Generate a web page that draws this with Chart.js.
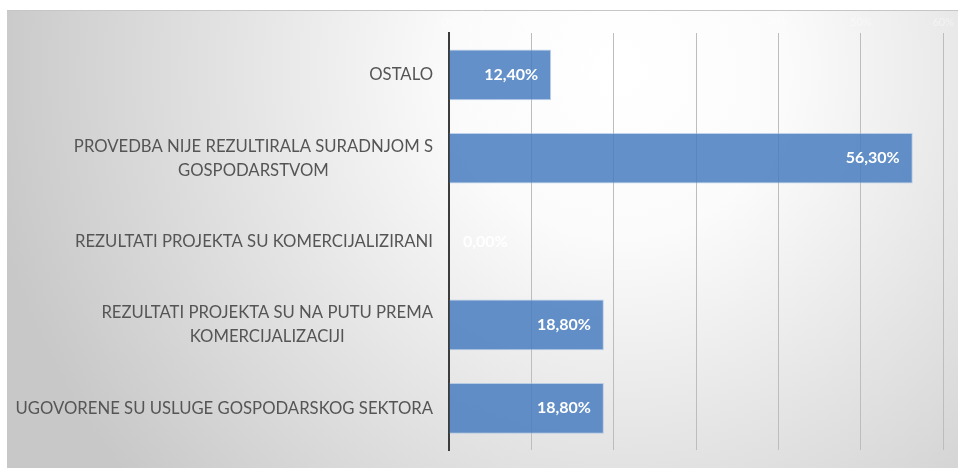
<!DOCTYPE html>
<html>
<head>
<meta charset="utf-8">
<script src="https://cdn.jsdelivr.net/npm/chart.js@4/dist/chart.umd.min.js"></script>
<style>
	html, body { margin: 0; padding: 0; background: #ffffff; }
	#wrap { position: relative; width: 958px; height: 468px; }
</style>
</head>
<body>
<div id="wrap"><canvas id="resultsChart"></canvas></div>
<script>
const categories = [
	["OSTALO"],
	["PROVEDBA NIJE REZULTIRALA SURADNJOM S", "GOSPODARSTVOM"],
	["REZULTATI PROJEKTA SU KOMERCIJALIZIRANI"],
	["REZULTATI PROJEKTA SU NA PUTU PREMA", "KOMERCIJALIZACIJI"],
	["UGOVORENE SU USLUGE GOSPODARSKOG SEKTORA"],
];
const shares = [12.4, 56.3, 0, 18.8, 18.8];
const axisMax = 60;
const axisStep = 10;

const fmtPercent = (v) => v.toFixed(2).replace(".", ",") + "%";

// grey panel with a soft light spot near the top
const panelBackground = {
	id: "panelBackground",
	beforeDraw: (chart) => {
		const ctx = chart.ctx;
		const w = chart.width;
		const h = chart.height;
		ctx.save();
		const grad = ctx.createRadialGradient(620, 70, 10, 620, 70, 640);
		grad.addColorStop(0, "#ffffff");
		grad.addColorStop(0.25, "#fbfbfb");
		grad.addColorStop(0.75, "#d9d9d9");
		grad.addColorStop(1, "#c8c8c8");
		ctx.fillStyle = grad;
		ctx.fillRect(7, 10, w - 7, h - 10);
		ctx.strokeStyle = "#c6c6c6";
		ctx.lineWidth = 1;
		ctx.beginPath();
		ctx.moveTo(7, 10.5);
		ctx.lineTo(w, 10.5);
		ctx.stroke();
		ctx.restore();
	},
};

// category names, right aligned block with centred lines
const categoryNames = {
	id: "categoryNames",
	afterDraw: (chart) => {
		const ctx = chart.ctx;
		const yScale = chart.scales.y;
		const rightEdge = chart.chartArea.left - 16;
		const lineHeight = 24;
		ctx.save();
		ctx.font = "16.7px Lato";
		ctx.fillStyle = "#555555";
		ctx.textAlign = "center";
		ctx.textBaseline = "middle";
		categories.forEach((lines, i) => {
			const y = yScale.getPixelForValue(i);
			const blockWidth = Math.max(...lines.map((l) => ctx.measureText(l).width));
			const cx = rightEdge - blockWidth / 2;
			const top = y - ((lines.length - 1) * lineHeight) / 2;
			lines.forEach((line, j) => {
				ctx.fillText(line, cx, top + j * lineHeight);
			});
		});
		ctx.restore();
	},
};

// value labels inside the end of each bar
const valueLabels = {
	id: "valueLabels",
	afterDatasetsDraw: (chart) => {
		const ctx = chart.ctx;
		const meta = chart.getDatasetMeta(0);
		ctx.save();
		ctx.font = "bold 16px Lato";
		ctx.fillStyle = "#ffffff";
		ctx.textAlign = "right";
		ctx.textBaseline = "middle";
		meta.data.forEach((bar, i) => {
			const text = fmtPercent(shares[i]);
			const tw = ctx.measureText(text).width;
			const x = Math.max(bar.x - 13, bar.base + 14 + tw);
			ctx.fillText(text, x, bar.y);
		});
		ctx.restore();
	},
};

const ctx = document.getElementById("resultsChart").getContext("2d");
new Chart(ctx, {
	type: "bar",
	data: {
		labels: categories.map((l) => l.join(" ")),
		datasets: [
			{
				data: shares,
				backgroundColor: "rgba(72, 125, 190, 0.85)",
				borderColor: "rgba(150, 185, 225, 0.6)",
				borderWidth: 1,
				barPercentage: 0.76,
				categoryPercentage: 0.8,
			},
		],
	},
	options: {
		indexAxis: "y",
		responsive: true,
		maintainAspectRatio: false,
		animation: false,
		layout: {
			padding: { left: 449, right: 12, top: 12, bottom: 18 },
		},
		plugins: {
			legend: { display: false },
			tooltip: { enabled: false },
		},
		scales: {
			x: {
				position: "top",
				min: 0,
				max: axisMax,
				ticks: {
					stepSize: axisStep,
					padding: 4,
					color: "rgba(255, 255, 255, 0.45)",
					font: { family: "Lato", size: 11 },
					callback: (v) => v + "%",
				},
				grid: {
					color: "#bdbdbd",
					lineWidth: 1,
					drawTicks: false,
				},
				border: { display: false },
			},
			y: {
				ticks: { display: false },
				grid: { display: false, drawTicks: false },
				border: { color: "#3c3c3c", width: 2 },
			},
		},
	},
	plugins: [panelBackground, categoryNames, valueLabels],
});
</script>
</body>
</html>
